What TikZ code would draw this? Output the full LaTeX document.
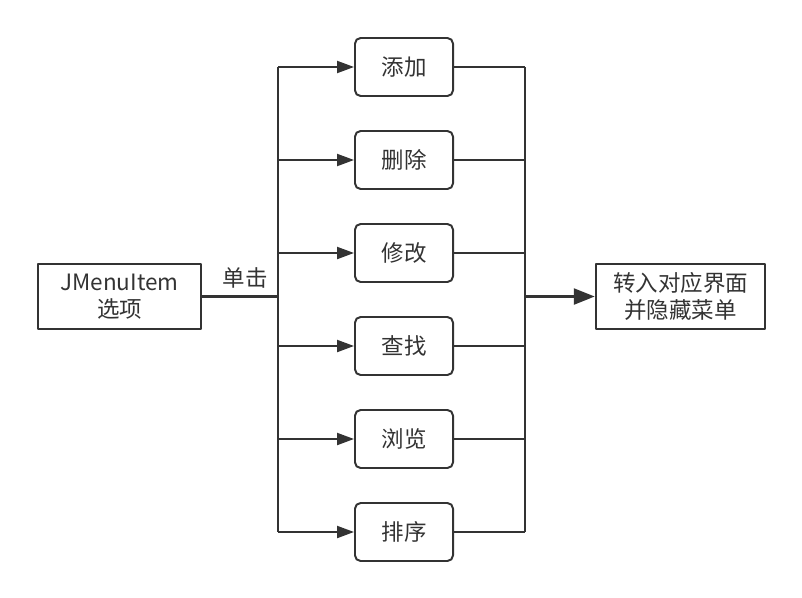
\documentclass[tikz,border=0pt]{standalone}
\usepackage{fontspec}
\setmainfont{Noto Sans CJK SC}
\usetikzlibrary{arrows.meta}
\definecolor{ink}{HTML}{333333}
\begin{document}
\begin{tikzpicture}[x=0.025cm,y=-0.025cm,>={Triangle[length=12pt,width=8.5pt]},line join=round,
	every node/.style={font=\fontsize{16}{19}\selectfont,text=ink},
	plainbox/.style={draw=ink,line width=1.4pt,align=center,minimum height=1.625cm,inner sep=2pt},
	item/.style={draw=ink,line width=1.4pt,rounded corners=4pt,minimum width=2.45cm,minimum height=1.45cm},
	wire/.style={draw=ink,line width=1.4pt},
	bus/.style={draw=ink,line width=2.6pt}]
	\useasboundingbox (0,0) rectangle (802,598);
	\node[plainbox,minimum width=4.075cm] (menu) at (119.5,296.5) {JMenuItem\\选项};
	\node[plainbox,minimum width=4.225cm] (goal) at (680.5,296.5) {转入对应界面\\并隐藏菜单};
	\foreach \t [count=\i] in {添加,删除,修改,查找,浏览,排序}
		\node[item] (op\i) at (404,{67+93*(\i-1)}) {\t};
	\path
	(278,296.5) coordinate (split)
	(525,296.5) coordinate (join);
	% fan out
	\draw[bus] (menu) -- (split) node[pos=0.57,above=1pt] {单击};
	\draw[wire] (split |- op1) -- (split |- op6);
	\foreach \i in {1,...,6}{
		\draw[wire,->] (split |- op\i) -- (op\i);
		\draw[wire] (op\i) -- (join |- op\i);
	}
	% fan in
	\draw[wire] (join |- op1) -- (join |- op6);
	\draw[bus,->,>={Triangle[length=15pt,width=11pt]}] (join) -- (goal);
\end{tikzpicture}
\end{document}
